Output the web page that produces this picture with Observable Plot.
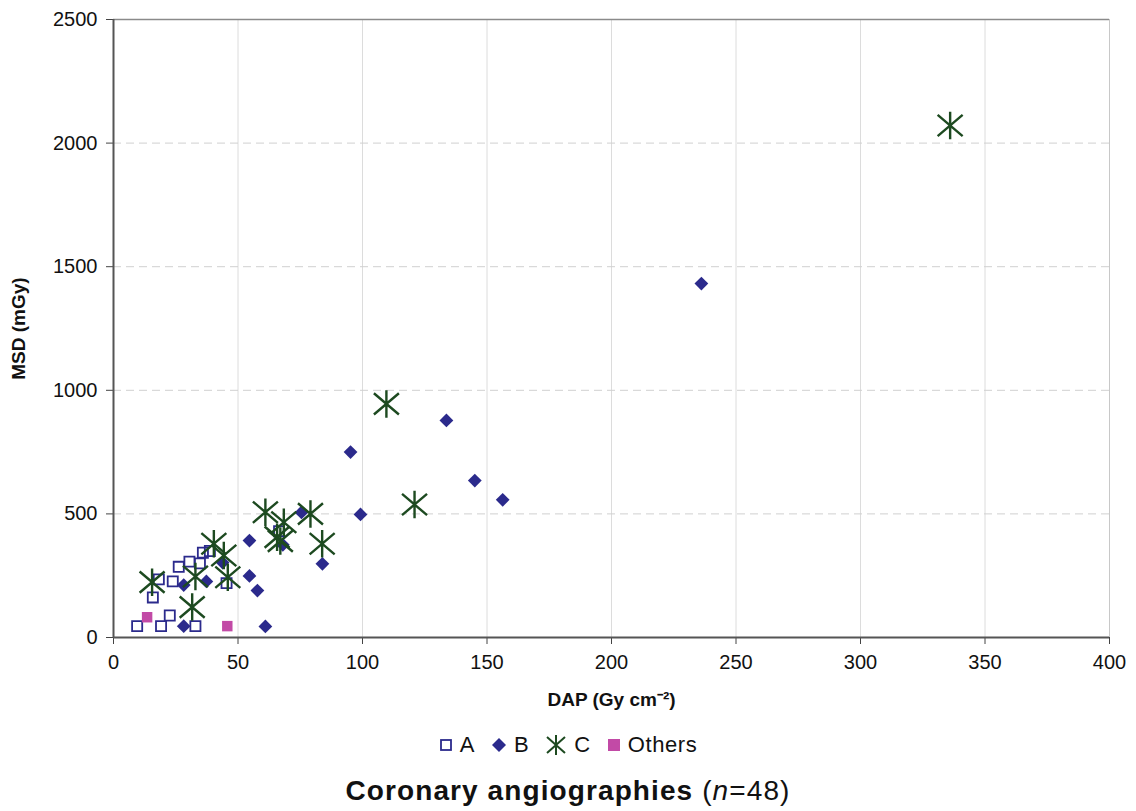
<!DOCTYPE html>
<html>
<head>
<meta charset="utf-8">
<script src="https://cdn.jsdelivr.net/npm/d3@7"></script>
<script src="https://cdn.jsdelivr.net/npm/@observablehq/plot@0.6"></script>
<style>
  body { margin: 0; background: #fff; font-family: "Liberation Sans", Arial, sans-serif; }
  #legend { height: 50px; display: flex; justify-content: center; align-items: center; font-size: 22px; letter-spacing: 0.6px; color: #111; }
  #legend .item { display: inline-flex; align-items: center; margin: 0 8px; }
  #legend svg { margin-right: 7px; }
  #caption { text-align: center; font-size: 28px; letter-spacing: 1.1px; font-weight: bold; color: #111; margin-top: 5px; }
  #caption .n { font-weight: normal; }
</style>
</head>
<body>
<div id="chart"></div>
<div id="legend"></div>
<div id="caption">Coronary angiographies <span class="n">(<i>n</i>=48)</span></div>
<script>
// Series values (DAP in Gy cm^-2, MSD in mGy)
const aX = [9.5, 19.1, 32.9, 22.6, 15.8, 18.2, 23.8, 26.2, 30.5, 34.7, 35.9, 38.7, 45.4, 66.5];
const aY = [46, 46, 46, 89, 162, 235, 227, 286, 307, 300, 343, 350, 220, 430];
const bX = [28.2, 28.2, 37.3, 43.8, 54.6, 54.6, 57.8, 61, 75.5, 68, 83.9, 95.2, 99.2, 133.7, 145.1, 156.3, 236.1];
const bY = [46, 212, 227, 303, 392, 249, 190, 45, 506, 375, 298, 750, 498, 878, 635, 557, 1432];
const cX = [15.5, 31.6, 32.9, 40.3, 44.3, 45.9, 61, 68.4, 65.7, 67, 79.1, 83.8, 109.6, 120.9, 336];
const cY = [224, 123, 247, 379, 332, 244, 507, 466, 406, 390, 500, 379, 945, 538, 2071];
const oX = [13.5, 45.7];
const oY = [82, 46];

const xTicks = [0, 50, 100, 150, 200, 250, 300, 350, 400];
const yTicks = [0, 500, 1000, 1500, 2000, 2500];
const seriesNames = ["A", "B", "C", "Others"];

const toRows = (xs, ys, s) => xs.map((x, i) => ({x, y: ys[i], s}));
const A = toRows(aX, aY, "A");
const B = toRows(bX, bY, "B");
const C = toRows(cX, cY, "C");
const O = toRows(oX, oY, "Others");

const navy = "#2b2a8c";
const green = "#1d4a20";
const magenta = "#c24aa6";

// Custom asterisk: vertical bar plus an X
const asterisk = {
  draw(ctx, size) {
    const r = Math.sqrt(size / Math.PI);
    ctx.moveTo(0, -1.1 * r); ctx.lineTo(0, 1.1 * r);
    ctx.moveTo(-r, -0.85 * r); ctx.lineTo(r, 0.85 * r);
    ctx.moveTo(-r, 0.85 * r); ctx.lineTo(r, -0.85 * r);
  }
};

const chart = Plot.plot({
  width: 1136,
  height: 720,
  marginLeft: 113,
  marginRight: 27,
  marginTop: 19,
  marginBottom: 83,
  style: {fontFamily: "'Liberation Sans', Arial, sans-serif", fontSize: "20px", color: "#111", background: "#fff"},
  x: {domain: [0, 400]},
  y: {domain: [0, 2500]},
  marks: [
    Plot.ruleX(xTicks.slice(1, -1), {stroke: "#dcdcdc", strokeWidth: 1}),
    Plot.ruleY(yTicks.slice(1, -1), {stroke: "#d0d0d0", strokeWidth: 1, strokeDasharray: "8,5"}),
    Plot.ruleY([2500], {stroke: "#8a8a8a", strokeWidth: 1.5}),
    Plot.ruleX([400], {stroke: "#c8c8c8", strokeWidth: 1}),
    Plot.axisX({ticks: xTicks, tickSize: 7, tickPadding: 10, stroke: "#444", fontSize: 20, tickFormat: d => String(d), label: null}),
    Plot.axisY({ticks: yTicks, tickSize: 7, tickPadding: 9, stroke: "#444", fontSize: 20, tickFormat: d => String(d), label: null}),
    Plot.ruleX([0], {stroke: "#555", strokeWidth: 2}),
    Plot.ruleY([0], {stroke: "#555", strokeWidth: 2}),
    Plot.text(["DAP (Gy cm⁻²)"], {frameAnchor: "bottom", dy: 68, fontWeight: "bold", fontSize: 19, textAnchor: "middle"}),
    Plot.text(["MSD (mGy)"], {frameAnchor: "left", dx: -95, rotate: -90, fontWeight: "bold", fontSize: 19, textAnchor: "middle"}),
    Plot.dot(A, {x: "x", y: "y", symbol: "square", r: 5.7, stroke: navy, strokeWidth: 1.8, fill: "white", fillOpacity: 0}),
    Plot.dot(B, {x: "x", y: "y", symbol: "diamond2", r: 6.2, fill: navy, stroke: "none"}),
    Plot.dot(O, {x: "x", y: "y", symbol: "square", r: 5.9, fill: magenta, stroke: "none"}),
    Plot.dot(C, {x: "x", y: "y", symbol: asterisk, r: 12.5, stroke: green, strokeWidth: 2.4, fill: "none"})
  ]
});
document.getElementById("chart").appendChild(chart);

// Legend
const legendSymbols = {
  A: `<svg width="14" height="14"><rect x="2" y="2" width="10" height="10" fill="none" stroke="${navy}" stroke-width="1.8"/></svg>`,
  B: `<svg width="16" height="16"><path d="M8,1 L15,8 L8,15 L1,8Z" fill="${navy}"/></svg>`,
  C: `<svg width="22" height="22"><g stroke="${green}" stroke-width="2" fill="none"><path d="M11,1 V21 M2,3 L20,19 M2,19 L20,3"/></g></svg>`,
  Others: `<svg width="14" height="14"><rect x="1" y="1" width="12" height="12" fill="${magenta}"/></svg>`
};
const legend = document.getElementById("legend");
legend.innerHTML = seriesNames.map(s => `<span class="item">${legendSymbols[s]}<span>${s}</span></span>`).join("");
</script>
</body>
</html>
